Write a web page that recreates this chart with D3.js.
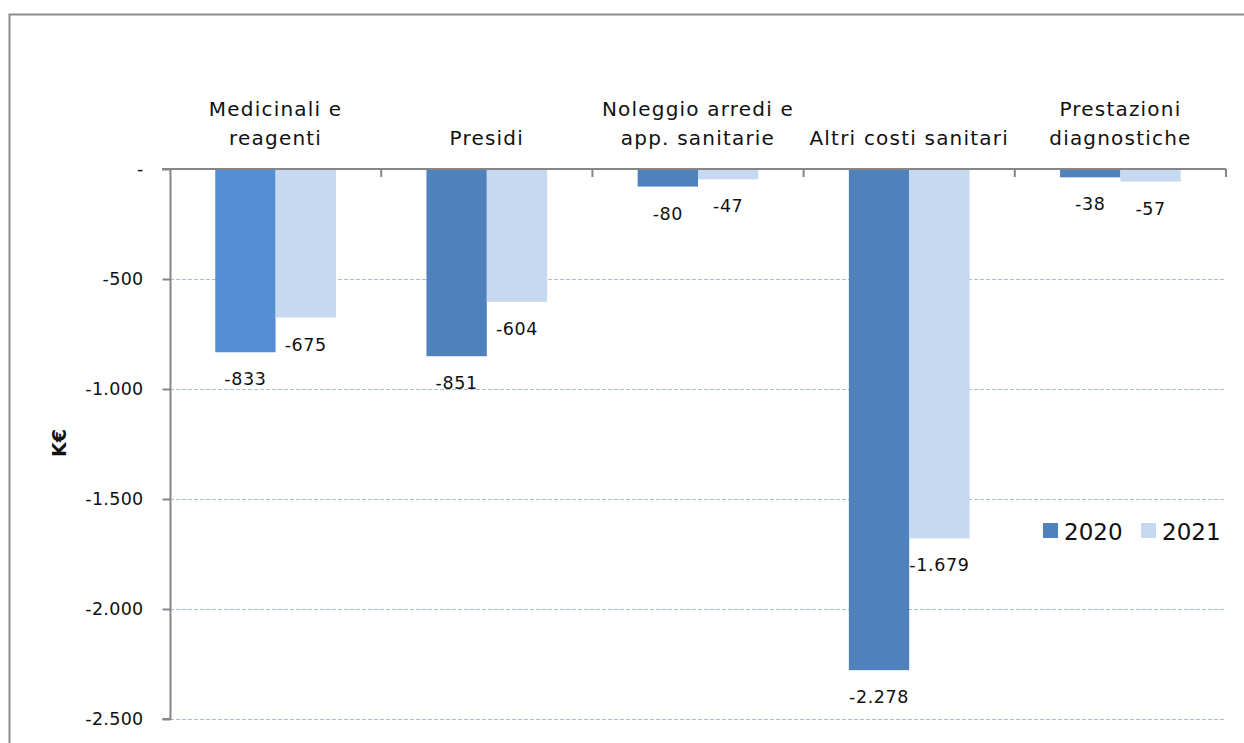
<!DOCTYPE html>
<html>
<head>
<meta charset="utf-8">
<script src="https://cdn.jsdelivr.net/npm/d3@7"></script>
<style>
  html, body { margin: 0; padding: 0; background: #fff; }
  svg { display: block; font-family: "DejaVu Sans", sans-serif; }
</style>
</head>
<body>
<svg id="chart" width="1244" height="743"></svg>
<script>
const categories = [
  ["Medicinali e", "reagenti"],
  ["Presidi"],
  ["Noleggio arredi e", "app. sanitarie"],
  ["Altri costi sanitari"],
  ["Prestazioni", "diagnostiche"]
];
const seriesNames = ["2020", "2021"];
const values2020 = [-833, -851, -80, -2278, -38];
const values2021 = [-675, -604, -47, -1679, -57];
const yTicks = [0, -500, -1000, -1500, -2000, -2500];
const yTickLabels = ["-", "-500", "-1.000", "-1.500", "-2.000", "-2.500"];
const labels2020 = ["-833", "-851", "-80", "-2.278", "-38"];
const labels2021 = ["-675", "-604", "-47", "-1.679", "-57"];
const yTitle = "K€";

const colors = ["#4F81BD", "#C6D9F1"];
const firstBarColor = "#558ED5";

const svg = d3.select("#chart");

// outer frame
svg.append("rect")
  .attr("x", 9.5).attr("y", 14.5)
  .attr("width", 1250).attr("height", 760)
  .attr("fill", "none").attr("stroke", "#8c8c8c").attr("stroke-width", 2);

const x0 = 170, x1 = 1226;
const x = d3.scaleBand().domain(d3.range(categories.length)).range([x0, x1]).paddingInner(0).paddingOuter(0);
const y = d3.scaleLinear().domain([0, -2500]).range([169, 719]);

// gridlines
svg.append("g").selectAll("line")
  .data(yTicks.filter(d => d !== 0))
  .join("line")
  .attr("x1", x0).attr("x2", x1)
  .attr("y1", d => Math.round(y(d)) + 0.5).attr("y2", d => Math.round(y(d)) + 0.5)
  .attr("stroke", "#A4BDE6").attr("stroke-width", 1).attr("stroke-dasharray", "4,2");

// bars
const series = [values2020, values2021];
const seriesLabels = [labels2020, labels2021];
const bw = x.bandwidth();
const barW = bw / 3.5;
const offset = (bw - 2 * barW) / 2;

series.forEach((vals, si) => {
  svg.append("g").selectAll("rect")
    .data(vals)
    .join("rect")
    .attr("x", (d, i) => x(i) + offset + si * barW)
    .attr("y", y(0))
    .attr("width", barW)
    .attr("height", d => y(d) - y(0))
    .attr("fill", (d, i) => (si === 0 && i === 0) ? firstBarColor : colors[si]);

  svg.append("g").selectAll("text")
    .data(vals)
    .join("text")
    .attr("x", (d, i) => x(i) + offset + si * barW + barW / 2)
    .attr("y", d => y(d) + 33)
    .attr("text-anchor", "middle")
    .attr("font-size", 17.5)
    .attr("letter-spacing", 0.6)
    .attr("fill", "#111")
    .text((d, i) => seriesLabels[si][i]);
});

// y axis
const yAxis = d3.axisLeft(y).tickValues(yTicks).tickSize(8).tickFormat((d, i) => yTickLabels[i]);
const gy = svg.append("g").attr("transform", `translate(${x0 + 0.5},0)`).call(yAxis);
gy.select(".domain").attr("stroke", "#868686").attr("stroke-width", 2).attr("d", `M-8,${y(-2500)}H0V${y(0)}`);
gy.selectAll(".tick line").attr("stroke", "#868686").attr("stroke-width", 2);
gy.selectAll(".tick text").attr("font-size", 17.5).attr("fill", "#111").attr("x", -27)
  .attr("letter-spacing", 0.3)
  .attr("font-family", "DejaVu Sans, sans-serif");

// category axis at zero
const xAxis = d3.axisBottom(x).tickSize(0).tickFormat("");
const gx = svg.append("g").attr("transform", `translate(0,${y(0)})`).call(xAxis);
gx.select(".domain").attr("stroke", "#868686").attr("stroke-width", 2).attr("d", `M${x0 - 8},0H${x1}`);
gx.selectAll(".tick").remove();
svg.append("g").selectAll("line")
  .data(d3.range(categories.length))
  .join("line")
  .attr("x1", i => x(i) + bw).attr("x2", i => x(i) + bw)
  .attr("y1", y(0)).attr("y2", y(0) + 8)
  .attr("stroke", "#868686").attr("stroke-width", 2);

// category labels above
const cl = svg.append("g").selectAll("text")
  .data(categories)
  .join("text")
  .attr("text-anchor", "middle")
  .attr("font-size", 20)
  .attr("letter-spacing", 1.2)
  .attr("fill", "#111");
cl.each(function(lines, i) {
  const t = d3.select(this);
  const n = lines.length;
  lines.forEach((ln, k) => {
    t.append("tspan")
      .attr("x", x(i) + bw / 2)
      .attr("y", 145 - (n - 1 - k) * 29)
      .text(ln);
  });
});

// y title
svg.append("text")
  .attr("transform", "translate(66,443) rotate(-90)")
  .attr("text-anchor", "middle")
  .attr("font-size", 19).attr("font-weight", "bold")
  .attr("fill", "#111")
  .text(yTitle);

// legend
const legend = svg.append("g");
const legX = [1043, 1141];
seriesNames.forEach((nm, i) => {
  legend.append("rect").attr("x", legX[i]).attr("y", 523).attr("width", 15).attr("height", 15).attr("fill", colors[i]);
  legend.append("text").attr("x", legX[i] + 21).attr("y", 540).attr("font-size", 23).attr("fill", "#111").text(nm);
});
</script>
</body>
</html>
